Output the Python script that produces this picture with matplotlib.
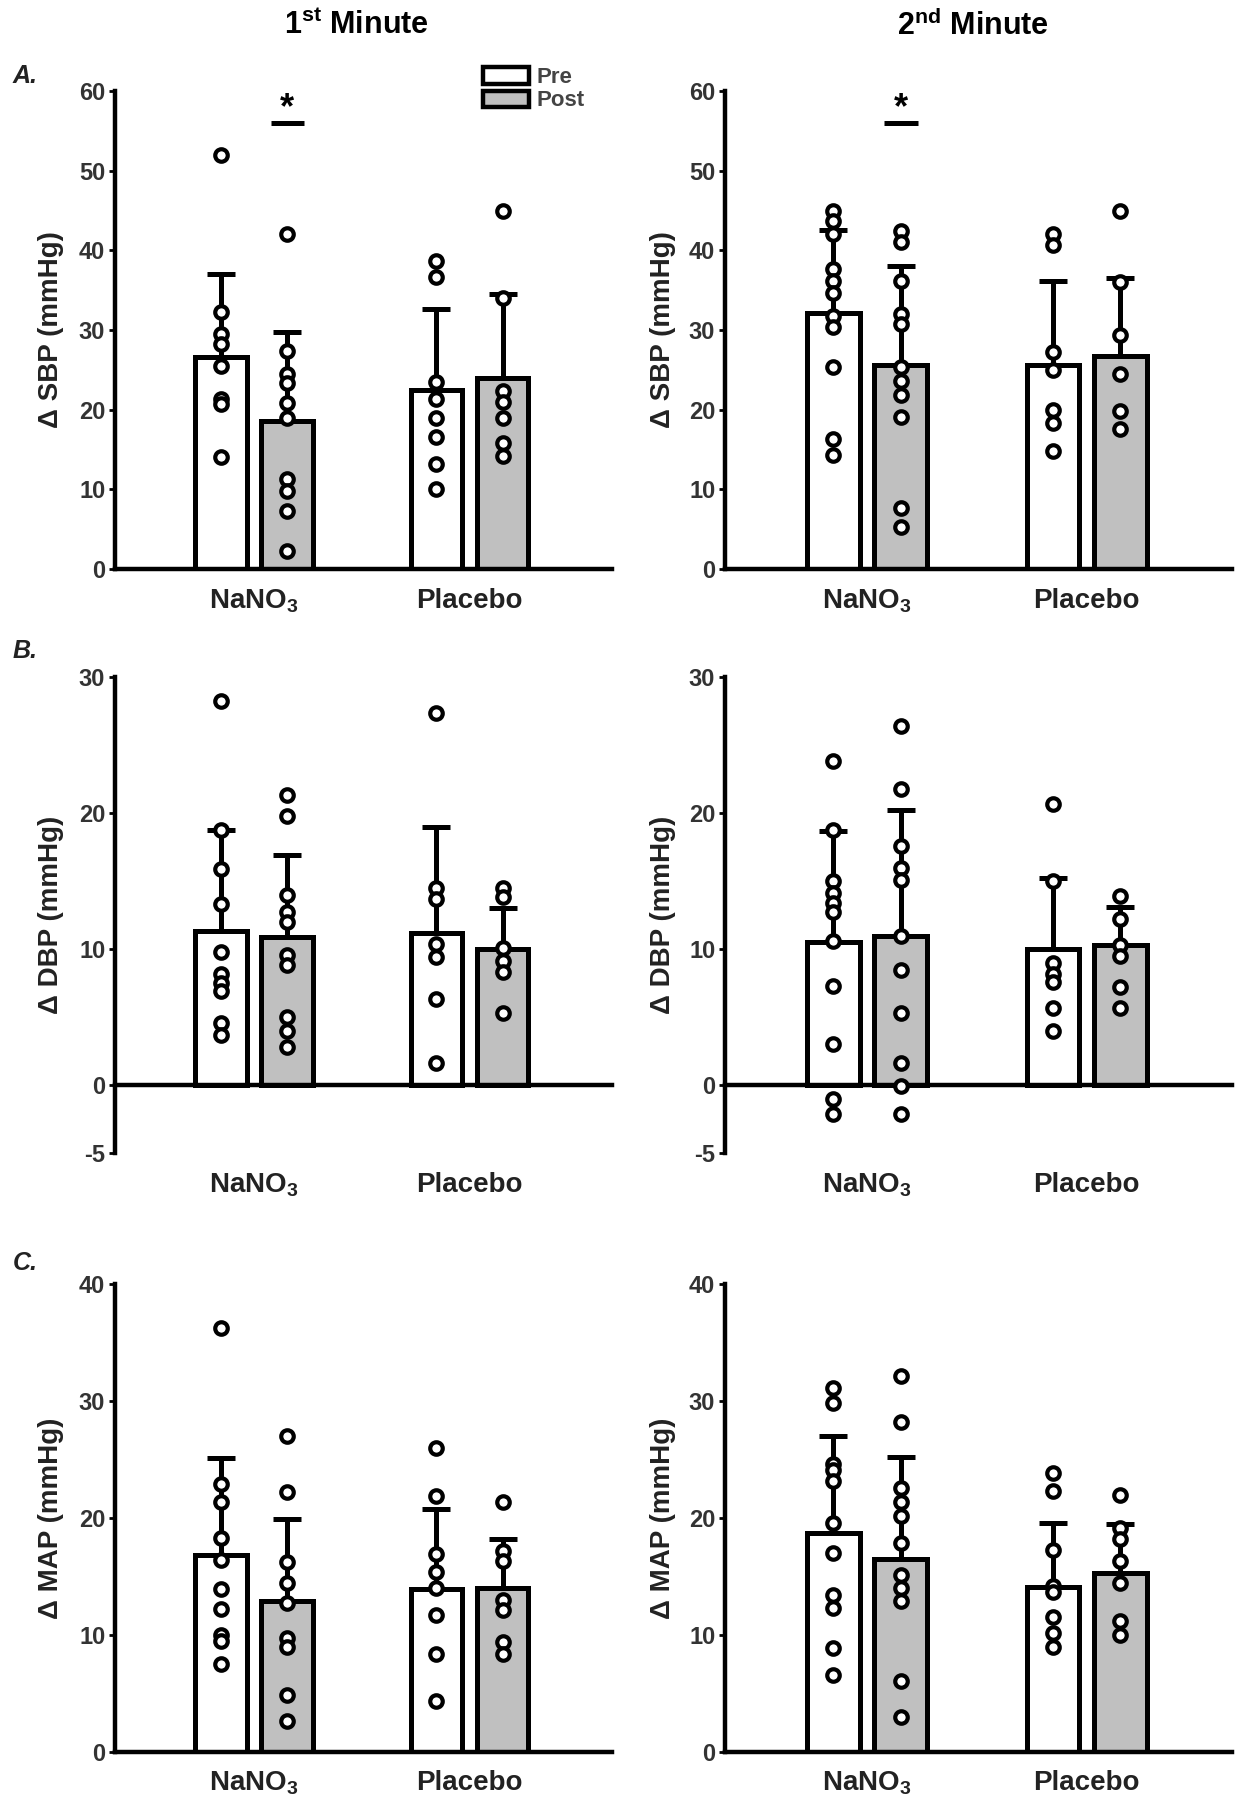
import matplotlib.pyplot as plt
from matplotlib.patches import Patch
from matplotlib.transforms import blended_transform_factory

plt.rcParams['font.family'] = ['Liberation Sans', 'DejaVu Sans']
plt.rcParams['font.weight'] = 'bold'
plt.rcParams['axes.labelweight'] = 'bold'
plt.rcParams['axes.unicode_minus'] = False
plt.rcParams['mathtext.fontset'] = 'custom'
plt.rcParams['mathtext.rm'] = 'Liberation Sans'
plt.rcParams['mathtext.bf'] = 'Liberation Sans:bold'
plt.rcParams['mathtext.default'] = 'rm'

# bar order: NaNO3 pre, NaNO3 post, Placebo pre, Placebo post
groups = ['NaNO$_3$', 'Placebo']
conditions = ['Pre', 'Post']

sbp1_mean = [26.6, 18.6, 22.5, 24.0]
sbp1_sd = [10.4, 11.2, 10.2, 10.5]
sbp1_pts = [
    [52.0, 32.3, 29.5, 28.3, 25.5, 21.3, 20.7, 14.0],
    [42.0, 27.4, 24.5, 23.3, 20.8, 19.0, 11.3, 9.8, 7.3, 2.3],
    [38.7, 36.7, 23.5, 21.3, 18.9, 16.6, 13.2, 10.1],
    [45.0, 34.0, 22.3, 21.0, 19.0, 15.8, 14.2],
]

sbp2_mean = [32.1, 25.6, 25.6, 26.8]
sbp2_sd = [10.5, 12.5, 10.5, 9.7]
sbp2_pts = [
    [44.9, 43.7, 42.0, 37.7, 36.1, 34.7, 31.7, 30.4, 25.3, 16.3, 14.3],
    [42.4, 41.0, 36.2, 32.0, 30.7, 25.4, 23.6, 21.8, 19.1, 7.7, 5.3],
    [42.1, 40.7, 27.3, 25.0, 20.0, 18.3, 14.8],
    [45.0, 36.0, 29.4, 24.5, 19.8, 17.6],
]

dbp1_mean = [11.3, 10.9, 11.2, 10.0]
dbp1_sd = [7.45, 6.0, 7.8, 3.0]
dbp1_pts = [
    [28.25, 18.75, 15.9, 13.3, 9.8, 8.2, 7.5, 6.9, 4.6, 3.7],
    [21.3, 19.8, 14.0, 12.7, 12.0, 9.6, 8.8, 5.0, 4.0, 2.8],
    [27.4, 14.5, 13.7, 10.4, 9.4, 6.3, 1.6],
    [14.5, 13.8, 10.1, 9.1, 8.3, 5.3],
]

dbp2_mean = [10.5, 11.0, 10.0, 10.3]
dbp2_sd = [8.2, 9.2, 5.25, 2.8]
dbp2_pts = [
    [23.8, 18.75, 15.0, 14.1, 13.4, 12.7, 10.6, 7.3, 3.0, -1.0, -2.1],
    [26.4, 21.8, 17.6, 16.0, 15.1, 11.0, 8.5, 5.3, 1.6, -0.05, -2.1],
    [20.7, 15.0, 9.0, 8.2, 7.6, 5.7, 4.0],
    [13.9, 12.2, 10.3, 9.5, 7.2, 5.7],
]

map1_mean = [16.8, 12.9, 13.9, 14.0]
map1_sd = [8.3, 7.0, 6.9, 4.2]
map1_pts = [
    [36.2, 22.9, 21.4, 18.3, 16.4, 13.9, 12.2, 10.0, 9.5, 7.5],
    [27.0, 22.2, 16.2, 14.4, 12.7, 9.7, 9.0, 4.9, 2.65],
    [26.0, 21.9, 16.9, 15.4, 14.0, 11.7, 8.4, 4.35],
    [21.4, 17.2, 16.3, 13.0, 12.1, 9.4, 8.4],
]

map2_mean = [18.7, 16.5, 14.1, 15.3]
map2_sd = [8.3, 8.7, 5.5, 4.2]
map2_pts = [
    [31.1, 29.8, 24.6, 24.1, 23.2, 19.6, 17.0, 13.4, 12.3, 8.9, 6.6],
    [32.1, 28.2, 22.6, 21.4, 20.2, 17.9, 15.1, 14.0, 12.9, 6.05, 3.0],
    [23.8, 22.3, 17.3, 14.2, 13.7, 11.5, 10.2, 9.0],
    [22.0, 19.1, 18.2, 16.3, 14.4, 11.2, 10.0],
]

group_x = [2.1, 5.35]
bar_x = [2.1 - 0.5, 2.1 + 0.5, 5.35 - 0.5, 5.35 + 0.5]
fills = ['white', '#c0c0c0', 'white', '#c0c0c0']
tick_col = '#333333'


def draw_panel(ax, mean, sd, pts, ylim, yticks, ylabel, star=False):
    ax.bar(bar_x, mean, width=0.78, color=fills, edgecolor='black',
           linewidth=3.6, zorder=2)
    ax.errorbar(bar_x, mean, yerr=[[0] * 4, sd], fmt='none', ecolor='black',
                elinewidth=3.6, capsize=10, capthick=3.6, zorder=1)
    for x, vals in zip(bar_x, pts):
        ax.plot([x] * len(vals), vals, 'o', ms=9, mfc='white', mec='black',
                mew=3, zorder=3, clip_on=False)
    ax.set_xlim(0, 7.5)
    ax.set_ylim(*ylim)
    ax.set_yticks(yticks)
    ax.set_xticks([])
    for s in ['top', 'right']:
        ax.spines[s].set_visible(False)
    ax.spines['left'].set_linewidth(3.2)
    ax.spines['bottom'].set_linewidth(3.2)
    ax.spines['bottom'].set_position(('data', 0))
    ax.tick_params(axis='y', direction='out', length=4, width=2, pad=3,
                   labelsize=17, labelcolor=tick_col)
    for lab in ax.get_yticklabels():
        lab.set_fontweight('bold')
    ax.set_ylabel(ylabel, fontsize=20, fontweight='bold', color='#222222')
    trans = blended_transform_factory(ax.transData, ax.transAxes)
    for gx, g in zip(group_x, groups):
        ax.text(gx, -0.067, g, transform=trans, ha='center', va='center',
                fontsize=20, fontweight='bold', color='#222222')
    if star:
        ax.plot([bar_x[1] - 0.25, bar_x[1] + 0.25], [56, 56], color='black',
                lw=3.6, solid_capstyle='butt')
        ax.text(bar_x[1], 57.8, '*', ha='center', va='center', fontsize=26,
                fontweight='bold')


fig = plt.figure(figsize=(12.38, 18), dpi=100)

left_x, left_w = 0.0929, 0.4014
right_x, right_w = 0.5856, 0.4096
rows = [(0.6839, 0.2655), (0.3594, 0.2644), (0.0267, 0.26)]

axA1 = fig.add_axes([left_x, rows[0][0], left_w, rows[0][1]])
axA2 = fig.add_axes([right_x, rows[0][0], right_w, rows[0][1]])
axB1 = fig.add_axes([left_x, rows[1][0], left_w, rows[1][1]])
axB2 = fig.add_axes([right_x, rows[1][0], right_w, rows[1][1]])
axC1 = fig.add_axes([left_x, rows[2][0], left_w, rows[2][1]])
axC2 = fig.add_axes([right_x, rows[2][0], right_w, rows[2][1]])

draw_panel(axA1, sbp1_mean, sbp1_sd, sbp1_pts, (0, 60), range(0, 61, 10),
           'Δ SBP (mmHg)', star=True)
draw_panel(axA2, sbp2_mean, sbp2_sd, sbp2_pts, (0, 60), range(0, 61, 10),
           'Δ SBP (mmHg)', star=True)
draw_panel(axB1, dbp1_mean, dbp1_sd, dbp1_pts, (-5, 30), [-5, 0, 10, 20, 30],
           'Δ DBP (mmHg)')
draw_panel(axB2, dbp2_mean, dbp2_sd, dbp2_pts, (-5, 30), [-5, 0, 10, 20, 30],
           'Δ DBP (mmHg)')
draw_panel(axC1, map1_mean, map1_sd, map1_pts, (0, 40), range(0, 41, 10),
           'Δ MAP (mmHg)')
draw_panel(axC2, map2_mean, map2_sd, map2_pts, (0, 40), range(0, 41, 10),
           'Δ MAP (mmHg)')

for ax in [axA1, axB1, axC1]:
    ax.yaxis.set_label_coords(-0.103, 0.5)
for ax in [axA2, axB2, axC2]:
    ax.yaxis.set_label_coords(-0.097, 0.5)

handles = [Patch(facecolor='white', edgecolor='black', linewidth=3.2),
           Patch(facecolor='#c0c0c0', edgecolor='black', linewidth=3.2)]
leg = axA1.legend(handles, conditions, loc='upper left',
                  bbox_to_anchor=(0.74, 1.05), frameon=False,
                  prop={'size': 16, 'weight': 'bold'},
                  handlelength=2.1, handleheight=0.75, labelspacing=0.1,
                  handletextpad=0.3, borderpad=0, borderaxespad=0)
for t in leg.get_texts():
    t.set_color('#444444')

fig.text(0.288, 0.9856, '1$^{\\mathbf{st}}$ Minute', ha='center',
         va='center', fontsize=22, fontweight='bold')
fig.text(0.786, 0.9856, '2$^{\\mathbf{nd}}$ Minute', ha='center',
         va='center', fontsize=22, fontweight='bold')

for lab, y in [('A.', 0.958), ('B.', 0.6383), ('C.', 0.2983)]:
    fig.text(0.01, y, lab, style='italic', fontsize=18, fontweight='bold',
             ha='left', va='center', color='#222222')

fig.savefig('out.png', dpi=100)
